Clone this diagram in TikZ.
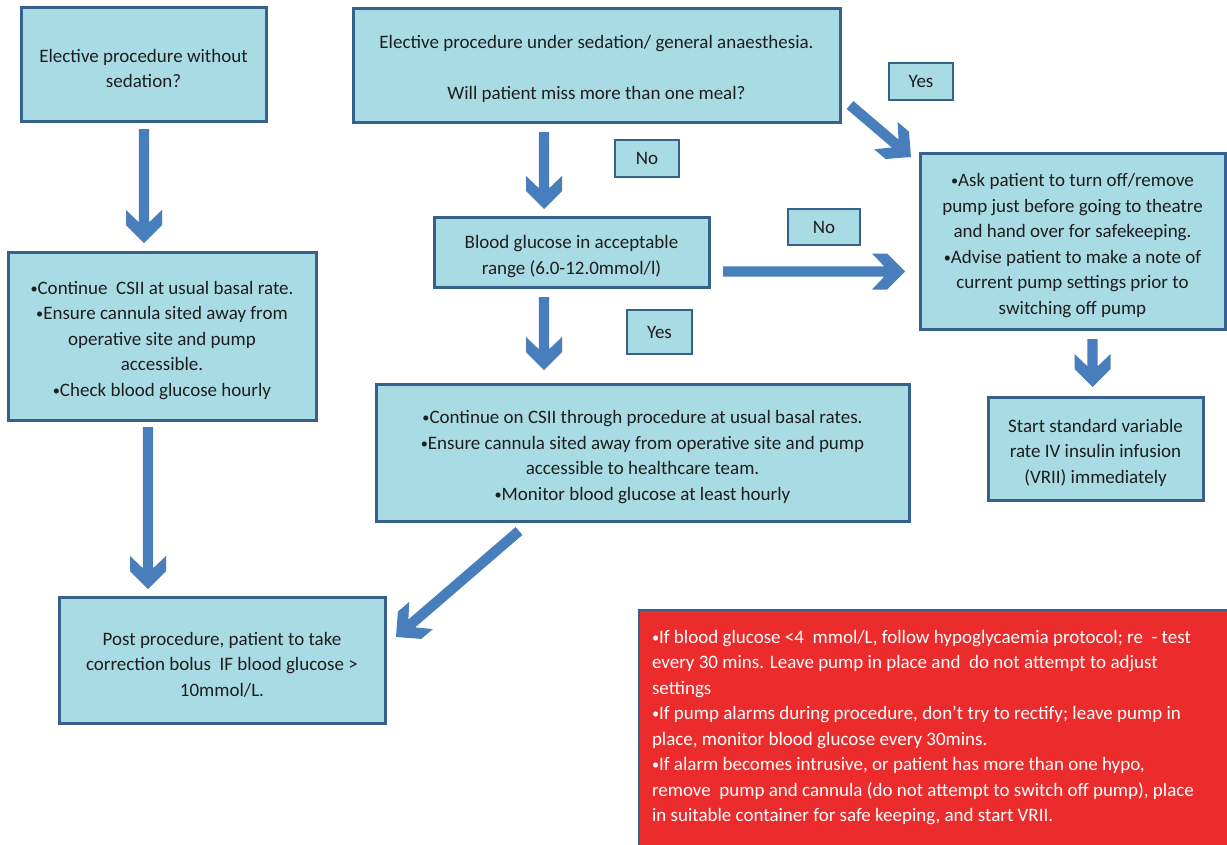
\documentclass[tikz,border=0pt]{standalone}
\usepackage{fontspec}
\setmainfont{Carlito}
\usetikzlibrary{calc}
\definecolor{boxfill}{RGB}{169,219,229}
\definecolor{boxdraw}{RGB}{56,96,140}
\definecolor{arrowblue}{RGB}{72,126,188}
\definecolor{alertred}{RGB}{236,44,44}
\definecolor{txt}{RGB}{30,30,30}
\newcommand\bul{\raisebox{0.12ex}{\scalebox{0.75}{•}}}
\newcommand\st{\rule{0pt}{22pt}}
\tikzset{
  basebox/.style={draw=boxdraw, fill=boxfill, align=center, text=txt,
    inner sep=0pt, font=\fontsize{19}{25.5}\selectfont},
  box/.style={basebox, line width=3pt},
  lbl/.style={basebox, line width=2.5pt},
}
% local point: along distance #1, perpendicular offset #2
\newcommand\ap[2]{($(\p1)+(\n1:{#1})+(\n1+90:{#2})$)}
\newcommand\bigarrow[2]{%
  \fill[arrowblue] let \p1=(#1), \p2=(#2),
      \n1={atan2(\y2-\y1,\x2-\x1)}, \n2={veclen(\x2-\x1,\y2-\y1)} in
    \ap{0pt}{5.2pt} -- \ap{(\n2-20.8)*1pt}{5.2pt} -- \ap{(\n2-33)*1pt}{18pt}
    -- \ap{(\n2-18)*1pt}{18pt} -- \ap{\n2*1pt}{0pt}
    -- \ap{(\n2-18)*1pt}{-18pt} -- \ap{(\n2-33)*1pt}{-18pt}
    -- \ap{(\n2-20.8)*1pt}{-5.2pt} -- \ap{0pt}{-5.2pt} -- cycle;}
\begin{document}
\begin{tikzpicture}[x=1pt,y=-1pt]
\useasboundingbox[fill=white] (0,0) rectangle (1227,844);

\node[box, minimum width=245, minimum height=114] (A) at (143.5,64)
  {\st Elective procedure without\\ sedation?};
\node[box, minimum width=487, minimum height=114] (B) at (596.5,65)
  {\st Elective procedure under sedation/ general anaesthesia.\\[25.5pt]Will patient miss more than one meal?};
\node[lbl, minimum width=64, minimum height=37] (yes1) at (921,81.5) {Yes};
\node[lbl, minimum width=64, minimum height=37] (no1) at (647,158.5) {No};
\node[box, minimum width=275, minimum height=70] (BG) at (571.5,252)
  {\st Blood glucose in acceptable\\ range (6.0-12.0mmol/l)};
\node[lbl, minimum width=72, minimum height=36] (no2) at (824,227) {No};
\node[box, minimum width=305, minimum height=176] (R) at (1072.5,241)
  {\st\bul Ask patient to turn off/remove\\ pump just before going to theatre\\ and hand over for safekeeping.\\ \bul Advise patient to make a note of\\ current pump settings prior to\\ switching off pump};
\node[box, minimum width=308, minimum height=168] (L) at (162,336)
  {\st\bul Continue\ \ CSII at usual basal rate.\\ \bul Ensure cannula sited away from\\ operative site and pump\\ accessible.\\ \bul Check blood glucose hourly};
\node[lbl, minimum width=65, minimum height=44] (yes2) at (659.5,332) {Yes};
\node[box, minimum width=533, minimum height=137] (C) at (642.5,452.5)
  {\st\bul Continue on CSII through procedure at usual basal rates.\\ \bul Ensure cannula sited away from operative site and pump\\ accessible to healthcare team.\\ \bul Monitor blood glucose at least hourly};
\node[box, minimum width=215, minimum height=103] (V) at (1095.5,448.5)
  {\st Start standard variable\\ rate IV insulin infusion\\ (VRII) immediately};
\node[box, minimum width=326, minimum height=126] (P) at (222,660)
  {\st Post procedure, patient to take\\ correction bolus\ \ IF blood glucose >\\ 10mmol/L.};
\node[draw=boxdraw, line width=2pt, fill=alertred, text=white, anchor=north west,
  inner xsep=13pt, inner ysep=20pt, font=\fontsize{19}{25.5}\selectfont] (W) at (638,609)
  {\parbox[t][240pt][t]{600pt}{\raggedright
  \bul If blood glucose <4\ \ mmol/L, follow hypoglycaemia protocol; re\ \ - test\\
  every 30 mins. Leave pump in place and\ \ do not attempt to adjust\\
  settings\\
  \bul If pump alarms during procedure, don’t try to rectify; leave pump in\\
  place, monitor blood glucose every 30mins.\\
  \bul If alarm becomes intrusive, or patient has more than one hypo,\\
  remove\ \ pump and cannula (do not attempt to switch off pump), place\\
  in suitable container for safe keeping, and start VRII.}};

\coordinate (a1) at (144,129);   \coordinate (a2) at (144,243);
\coordinate (b1) at (544,132);   \coordinate (b2) at (544,209);
\coordinate (c1) at (850,105);   \coordinate (c2) at (911,157);
\coordinate (d1) at (723,271.5); \coordinate (d2) at (905,271.5);
\coordinate (e1) at (544,297);   \coordinate (e2) at (544,370);
\coordinate (f1) at (1092.5,339);\coordinate (f2) at (1092.5,387);
\coordinate (g1) at (148,427);   \coordinate (g2) at (148,589);
\coordinate (h1) at (519,531);   \coordinate (h2) at (396,637);
\bigarrow{a1}{a2}
\bigarrow{b1}{b2}
\bigarrow{c1}{c2}
\bigarrow{d1}{d2}
\bigarrow{e1}{e2}
\bigarrow{f1}{f2}
\bigarrow{g1}{g2}
\bigarrow{h1}{h2}
\end{tikzpicture}
\end{document}
